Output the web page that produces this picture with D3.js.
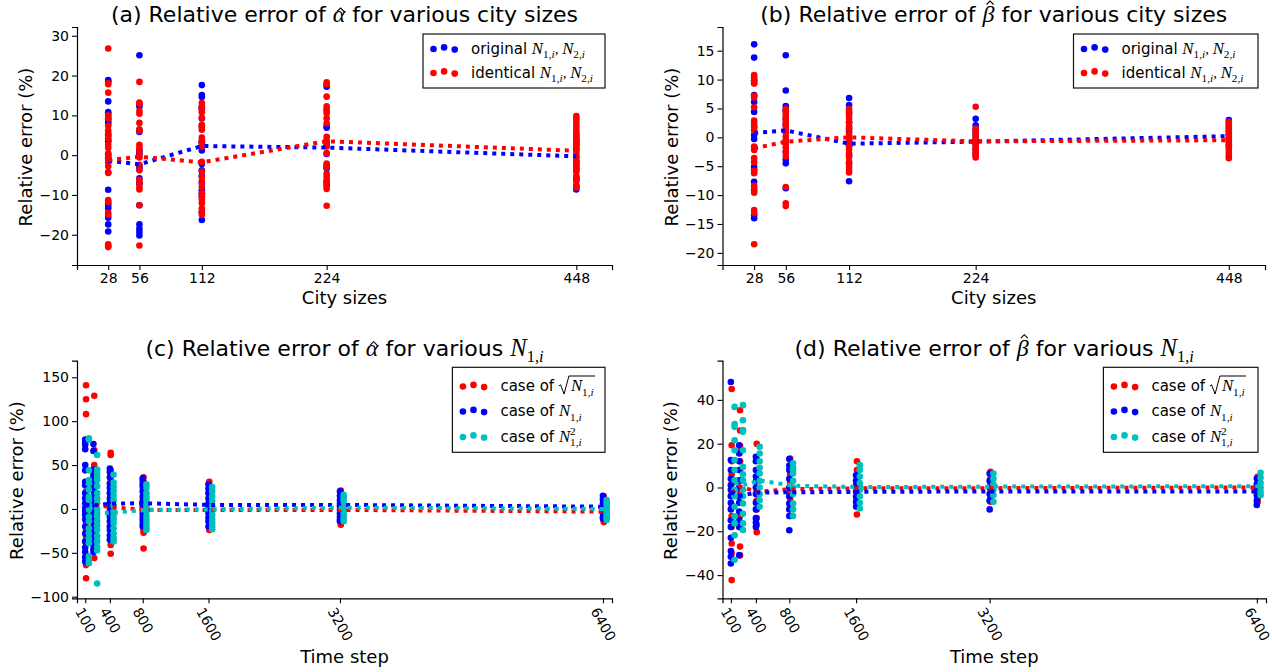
<!DOCTYPE html>
<html>
<head>
<meta charset="utf-8">
<script src="https://cdn.jsdelivr.net/npm/d3@7"></script>
<style>
  body { margin: 0; background: #fff; }
  text { font-family: "DejaVu Sans", sans-serif; fill: #000; }
</style>
</head>
<body>
<svg id="chart" width="1272" height="672"></svg>
<script>
// ---- data ----
var citySizes = [28, 56, 112, 224, 448]
var timeSteps = [100, 200, 400, 800, 1600, 3200, 6400]
var timeTicks = [100, 400, 800, 1600, 3200, 6400]

// (a) alpha error, per city size
var alphaOriginal = [
  [18.9, 18.6, 13.5, 10.8, 10.4, 9, 8.4, 7.8, 5, 3.8, 3.4, 0.2, -0.5, -4.3, -8.7, -12.1, -12.8, -13.4, -15.7, -17.4, -19.2],
  [25.1, 12.8, 12.2, 6.2, 5.8, 1.2, 0.5, -2.8, -3.5, -5.8, -6.9, -7.2, -12.6, -17.4, -18.5, -19.3, -20.2],
  [17.6, 15.1, 14.6, 12, 11.7, 9.2, 7.3, 3.5, 3.1, 1.2, -2.2, -3.8, -5.2, -7, -8.8, -9.6, -10.3, -14.2, -16.3],
  [17.6, 17.2, 7.3, 6.9, 3.1, 2.3, 0.3, -2.6, -3.3, -6.7, -7.3],
  [5.2, 4.1, 3.3, 2.5, 1.5, -0.4, -1.6, -2.4, -3.4, -5.5, -6.3, -7.8, -8.6]
]
var alphaIdentical = [
  [26.8, 18.1, 17.8, 15.7, 10, 9.5, 9.2, 7.4, 6.2, 5.5, 4.8, 4.2, 2.6, 1.8, 0.4, -0.4, -1.2, -1.8, -2.8, -4.5, -11.3, -11.8, -14.5, -15, -22.4, -22.9, -23.1],
  [18.4, 13.2, 12.9, 11.1, 10.4, 8.1, 6.5, 6.1, 2.6, 1.8, 1.2, -0.2, -0.6, -2.4, -3.8, -6.2, -7.1, -8.0, -8.6, -12.6, -22.7],
  [13.1, 12.2, 11.2, 10.8, 9.4, 7.6, 7.1, 6.4, 4.4, 3.5, 2.9, 2.1, -1.7, -4.1, -5.5, -6.6, -8, -9.6, -10.5, -11.2, -12.1, -13.4, -14.4, -15],
  [18.3, 17.8, 14.7, 12.3, 11.6, 11.2, 10.5, 9.3, 8, 4.6, 3.8, 3.1, 2.2, 0.5, -2.1, -3, -4.6, -5.3, -6.1, -6.7, -7.9, -8.5, -12.7],
  [9.8, 9.2, 8.5, 7.8, 7, 6.3, 5.6, 4.8, 4.1, 3.5, 2.8, 2, 1.2, 0.4, -0.5, -1.3, -2.1, -2.9, -3.6, -4.2, -5.3, -5.8, -6.4, -7.5, -8.1]
]
var alphaOriginalMean = [-1.4, -2.3, 2.3, 1.9, -0.3]
var alphaIdenticalMean = [-1.3, -0.4, -1.8, 3.5, 1.1]

// (b) beta error, per city size
var betaOriginal = [
  [16.1, 13.8, 9.9, 9.4, 7.3, 6.1, 4.4, 1.8, 0.4, -0.3, -5.1, -5.6, -7.7, -9.2, -13.5, -14],
  [14.2, 8.1, 5.4, 4.7, 3.2, 2.2, 1.1, -0.6, -2.5, -3.9, -4.5, -8.8],
  [6.8, 5.6, 4.2, 2.6, 1.6, 1, -0.6, -1.6, -3.1, -4.6, -7.6],
  [3.2, 2.1, 1.3, 0.7, 0.1, -0.5, -1.3, -2.1, -2.9],
  [3.0, 2.4, 1.8, 1.2, 0.5, -0.2, -0.8, -1.5]
]
var betaIdentical = [
  [10.8, 10.4, 9.9, 9.3, 7.2, 6.9, 5.2, 2.9, 2.4, 1.8, 1.2, -1.6, -2.2, -3.6, -4.3, -5.8, -6.2, -8.4, -8.9, -9.6, -12.6, -13.1, -18.5],
  [4.9, 4.5, 4.1, 3.6, 3.1, 2.6, 2, 1.4, 0.8, 0.1, -0.5, -1.2, -1.8, -2.6, -3.3, -8.6, -11.4, -11.9],
  [4.9, 4.4, 3.8, 3.2, 2.6, 2, 1.5, 0.6, 0.1, -0.6, -1.4, -2.1, -2.8, -3.5, -4.3, -5.1, -5.6, -6.1],
  [5.3, 1.5, 1.0, 0.4, -0.2, -0.7, -1.2, -1.7, -2.2, -2.6, -3.1, -3.5],
  [2.7, 2.2, 1.6, 1.0, 0.5, -0.1, -0.6, -1.2, -1.7, -2.2, -2.7, -3.2, -3.6]
]
var betaOriginalMean = [0.75, 1.2, -1.1, -0.75, 0.2]
var betaIdenticalMean = [-1.9, -0.75, 0, -0.7, -0.5]

// (c) alpha error, per time step
var alphaSqrt = [
  [141, 125, 108, 29, 20, 12, 6, 1, -5, -11, -16, -20, -24, -28, -31, -39, -54, -58, -64, -79],
  [129, 67, 50, 44, 40, 31, 25, 17, 10, 4, -1, -5, -12, -18, -25, -31, -38, -45, -56],
  [64, 61.5, 44, 38, 33, 26, 20, 14, 8, 2.7, -3, -9, -15, -20, -24, -30, -35, -41, -51],
  [36, 31, 25, 20, 15, 11, 6, 1, -4, -9, -14, -19, -24, -27, -45],
  [31, 27, 21, 14, 8, 2, -4, -10, -15, -20, -24],
  [21, 17, 12, 7, 2, -3, -8, -12, -15, -18],
  [14, 10, 6, 2, -2, -6, -10, -13, -15]
]
var alphaLin = [
  [79, 76, 73, 68, 50, 44, 31, 27, 18, 12, 6.5, 1, -3, -7, -12, -20, -28, -37, -44, -49, -55, -60],
  [74, 66, 45, 38, 33, 25, 21, 14, 7, 2, -1, -5, -9, -15, -20, -24, -31, -37, -41, -46, -49],
  [46, 42, 36, 29, 24, 18, 12, 7, 3, -2, -6, -9, -14, -20, -24, -30, -35],
  [35, 32, 28, 25, 20, 14, 9, 3, -1, -5, -9, -12.5, -17, -20],
  [28, 23, 18, 12, 6.5, 1, -5, -10, -14, -20],
  [20, 15, 10, 6, 3, -1, -5, -9, -12, -14],
  [15, 11, 6.5, 3, -1, -5, -9, -11]
]
var alphaSq = [
  [80.5, 79, 44, 33, 29, 22, 14, 10, 4, -1, -9, -14, -22, -28, -34, -39, -54, -58, -62],
  [61.5, 45, 41, 37, 33, 26, 18, 12, 6.5, 0, -5, -9, -14, -19, -24, -31, -37, -43, -47, -85],
  [39, 30, 25, 20, 15, 10, 4, -3, -8, -12, -16, -22, -28, -33, -37],
  [28, 24, 18, 14, 10, 5, 1, -3, -8, -12.5, -17, -21, -24],
  [25, 20, 14, 9, 3, -2, -7, -12, -16, -20, -23],
  [16, 13, 10, 6, 1, -3, -7, -11, -14],
  [10, 7, 4.5, 1, -2, -5, -8, -10, -12.5]
]
var alphaSqrtMean = [3, 5, 2, -1, -1.3, -1.1, -3]
var alphaLinMean = [5, 4, 6, 6.5, 4.6, 4.6, 2.6]
var alphaSqMean = [2, -5, -4.2, -1.1, -0.5, 1.5, 0]

// (d) beta error, per time step
var betaSqrt = [
  [45, 19.3, 12, 6, 1.8, -3, -4, -8, -13, -18, -25.6, -30, -42.3],
  [35.3, 26, 19, 16.3, 12, 8, 3, -2, -7, -13, -18, -27, -31],
  [20, 13, 8, 3, -2, -6, -10, -14, -17, -20.4],
  [13.2, 10, 6, 2, -2, -5, -9, -13],
  [12, 8, 4, 0, -4, -8, -12.3],
  [7.2, 4, 1, -2, -4.5, -6.5],
  [4.9, 2.5, 0, -2.5, -5, -6.5]
]
var betaLin = [
  [48.2, 12.5, 8, 4, 1, -1, -4, -7, -10, -15, -18, -23, -29, -31.6, -34.7],
  [19.3, 15.5, 12, 8, 3.3, 0, -4.3, -7, -11, -15, -18, -30.9],
  [14, 12, 8, 5, 2.7, 0, -3, -7, -10, -14, -16, -18],
  [13, 10, 8, 4, 0, -4, -7.3, -10, -13, -19.5],
  [5.6, 3, 1, -2, -4.3, -6.5, -8.8],
  [6.4, 3, 0, -3, -6, -10],
  [4.1, 1.5, -1, -3.5, -6, -8]
]
var betaSq = [
  [36.8, 29, 27.7, 21.6, 17, 12.5, 8, 3.3, -1, -4, -8.8, -13.2, -16.4, -21.8, -33],
  [37.6, 30.7, 26.2, 25.4, 17, 9.4, 6, 3.3, -1, -4, -7.3, -12, -16.4, -19.4],
  [18.6, 15.5, 12, 9, 6.4, 3, 0, -3, -5.8, -8.8],
  [11, 9, 8, 6.4, 3, 0, -3, -7.3, -10, -13],
  [10.2, 8, 5, 2, -1, -4, -7, -9.6],
  [6.4, 4, 1.5, -1, -3.5, -6.5],
  [6.7, 4.5, 2, 0, -2, -3.5]
]
var betaSqrtMean = [-2.5, 0.5, -2, -0.8, -0.4, -0.3, 0]
var betaLinMean = [-2, -4, -2.3, -2.2, -2, -1.8, -1.8]
var betaSqMean = [2, 1, 3.2, 0.8, 0.2, 0.4, 0.6]

// small horizontal shift (in time steps) between the three N_{1,i} cases
var caseShift = [10, 0, 45]

// ---- drawing ----
var RED = '#ff0000', BLUE = '#0000ff', CYAN = '#00bfbf'
var MATH = '"Liberation Serif", "DejaVu Serif", serif'
var svg = d3.select('#chart')

var panels = [
  {
    title: ['(a) Relative error of ', {hat: 'α'}, ' for various city sizes'],
    x0: 77, x1: 612, y0: 27, y1: 265,
    xd: [0, 480], yd: [-27.6, 32.2], yt: d3.range(-20, 31, 10), xt: citySizes, xs: citySizes,
    xlabel: 'City sizes', xlabelY: 303.5, ylabelX: 26, rotate: false,
    series: [
      {vals: alphaOriginal, mean: alphaOriginalMean, color: BLUE, shift: 0, name: 'original'},
      {vals: alphaIdentical, mean: alphaIdenticalMean, color: RED, shift: 0, name: 'identical'}
    ],
    legend: {x: 423, y: 34, w: 182, h: 54, rows: [48, 72], kind: 'city'}
  },
  {
    title: ['(b) Relative error of ', {hat: 'β'}, ' for various city sizes'],
    x0: 722.5, x1: 1265, y0: 27, y1: 265,
    xd: [0, 480], yd: [-22.1, 19.1], yt: d3.range(-20, 16, 5), xt: citySizes, xs: citySizes,
    xlabel: 'City sizes', xlabelY: 303.5, ylabelX: 672, rotate: false,
    series: [
      {vals: betaOriginal, mean: betaOriginalMean, color: BLUE, shift: 0, name: 'original'},
      {vals: betaIdentical, mean: betaIdenticalMean, color: RED, shift: 0, name: 'identical'}
    ],
    legend: {x: 1073.5, y: 34, w: 184.5, h: 54, rows: [48, 72], kind: 'city'}
  },
  {
    title: ['(c) Relative error of ', {hat: 'α'}, ' for various ', {N: '1,i'}],
    x0: 77, x1: 612, y0: 360.7, y1: 598.3,
    xd: [0, 6510], yd: [-101.8, 168.9], yt: d3.range(-100, 151, 50), xt: timeTicks, xs: timeSteps,
    xlabel: 'Time step', xlabelY: 663, ylabelX: 17, rotate: true,
    series: [
      {vals: alphaSqrt, mean: alphaSqrtMean, color: RED, shift: caseShift[0], name: 'sqrt'},
      {vals: alphaLin, mean: alphaLinMean, color: BLUE, shift: caseShift[1], name: 'lin'},
      {vals: alphaSq, mean: alphaSqMean, color: CYAN, shift: caseShift[2], name: 'sq'}
    ],
    legend: {x: 452.4, y: 367.3, w: 152.6, h: 85, rows: [385.5, 410.5, 436], kind: 'time'}
  },
  {
    title: ['(d) Relative error of ', {hat: 'β'}, ' for various ', {N: '1,i'}],
    x0: 722.5, x1: 1266, y0: 360.7, y1: 598.3,
    xd: [0, 6510], yd: [-50.6, 57.9], yt: d3.range(-40, 41, 20), xt: timeTicks, xs: timeSteps,
    xlabel: 'Time step', xlabelY: 663, ylabelX: 671, rotate: true,
    series: [
      {vals: betaSqrt, mean: betaSqrtMean, color: RED, shift: caseShift[0], name: 'sqrt'},
      {vals: betaLin, mean: betaLinMean, color: BLUE, shift: caseShift[1], name: 'lin'},
      {vals: betaSq, mean: betaSqMean, color: CYAN, shift: caseShift[2], name: 'sq'}
    ],
    legend: {x: 1103.4, y: 367.3, w: 154.6, h: 85, rows: [385.5, 410.5, 436], kind: 'time'}
  }
]

// writes N_{sub} (optionally with a superscript) as tspans, leaves baseline lowered by size*0.3
function addN(t, sub, size, sup) {
  t.append('tspan').text('N').attr('font-family', MATH).attr('font-style', 'italic')
    .attr('font-size', size * 1.12)
  var ss = size * 0.75
  if (sup) {
    t.append('tspan').text(sup).attr('font-family', MATH).attr('font-size', ss)
      .attr('dy', -size * 0.42)
    t.append('tspan').text(sub.split(',')[0] + ',').attr('font-family', MATH).attr('font-size', ss)
      .attr('dx', -ss * 0.5).attr('dy', size * 0.72)
  } else {
    t.append('tspan').text(sub.split(',')[0] + ',').attr('font-family', MATH).attr('font-size', ss)
      .attr('dy', size * 0.3)
  }
  t.append('tspan').text(sub.split(',')[1]).attr('font-family', MATH).attr('font-style', 'italic')
    .attr('font-size', ss)
}

function drawPanel(p) {
  var x = d3.scaleLinear().domain(p.xd).range([p.x0, p.x1])
  var y = d3.scaleLinear().domain(p.yd).range([p.y1, p.y0])
  var g = svg.append('g')

  // points
  p.series.forEach(function(s) {
    s.vals.forEach(function(col, i) {
      g.append('g').selectAll('circle').data(col).enter().append('circle')
        .attr('cx', x(p.xs[i] + s.shift))
        .attr('cy', d => y(d))
        .attr('r', 3.3)
        .attr('fill', s.color)
    })
  })
  // mean lines
  p.series.forEach(function(s) {
    g.append('path').datum(s.mean)
      .attr('d', d3.line().x((d, i) => x(p.xs[i] + s.shift)).y(d => y(d)))
      .attr('fill', 'none')
      .attr('stroke', s.color)
      .attr('stroke-width', 4)
      .attr('stroke-dasharray', '4,5')
  })

  // axes
  var ya = g.append('g').attr('transform', 'translate(' + p.x0 + ',0)')
    .call(d3.axisLeft(y).tickValues(p.yt).tickSizeOuter(0).tickSize(5).tickPadding(3))
  var xa = g.append('g').attr('transform', 'translate(0,' + p.y1 + ')')
    .call(d3.axisBottom(x).tickValues(p.xt).tickFormat(d3.format('d')).tickSizeOuter(0).tickSize(5).tickPadding(3))
  ;[ya, xa].forEach(function(a) {
    a.attr('font-family', null).attr('font-size', 14)
    a.selectAll('text').attr('fill', '#000')
    a.selectAll('line').attr('stroke', '#000').attr('stroke-width', 1.1)
    a.select('.domain').attr('stroke', '#000').attr('stroke-width', 1.2)
  })
  if (p.rotate) {
    xa.selectAll('.tick text').each(function() {
      var L = this.getComputedTextLength()
      var a = Math.PI / 3
      var ty = 8 + (L * Math.sin(a) + 10 * Math.cos(a)) / 2
      d3.select(this).attr('x', 0).attr('y', 0).attr('dy', '0.36em')
        .attr('text-anchor', 'middle')
        .attr('transform', 'translate(0,' + ty + ') rotate(60)')
    })
  }

  // labels
  var cx = (p.x0 + p.x1) / 2
  svg.append('text').attr('x', cx).attr('y', p.xlabelY)
    .attr('text-anchor', 'middle').attr('font-size', 18).text(p.xlabel)
  svg.append('text')
    .attr('transform', 'translate(' + p.ylabelX + ',' + ((p.y0 + p.y1) / 2 + 1) + ') rotate(-90)')
    .attr('text-anchor', 'middle').attr('dy', '0.35em').attr('font-size', 18).text('Relative error (%)')

  // title
  var tt = svg.append('text').attr('x', cx).attr('y', p.y0 - 5).attr('text-anchor', 'middle')
    .attr('font-size', 22)
  var hatIdx = -1, count = 0
  p.title.forEach(function(part) {
    if (typeof part === 'string') {
      tt.append('tspan').text(part)
      count += part.length
    } else if (part.hat) {
      hatIdx = count
      tt.append('tspan').text(part.hat).attr('font-family', MATH).attr('font-style', 'italic')
        .attr('font-size', 24)
      count += 1
    } else if (part.N) {
      addN(tt, part.N, 22)
    }
  })
  var ex = tt.node().getExtentOfChar(hatIdx)
  var hx = ex.x + ex.width / 2 + 1.5
  var hy = p.y0 - 5 - (p.title[1].hat === 'β' ? 21 : 14)
  svg.append('path')
    .attr('d', 'M' + (hx - 3.5) + ',' + (hy + 3.5) + 'L' + hx + ',' + hy + 'L' + (hx + 3.5) + ',' + (hy + 3.5))
    .attr('fill', 'none').attr('stroke', '#000').attr('stroke-width', 1.1)

  // legend
  var lg = p.legend
  svg.append('rect').attr('x', lg.x).attr('y', lg.y).attr('width', lg.w).attr('height', lg.h)
    .attr('fill', '#fff').attr('stroke', '#111').attr('stroke-width', 1.2)
  var offs = [1, -0.6, 1.6]
  p.series.forEach(function(s, k) {
    var ry = lg.rows[k]
    svg.append('g').selectAll('circle').data(offs).enter().append('circle')
      .attr('cx', (d, j) => lg.x + 10.5 + j * 10.6)
      .attr('cy', d => ry + d)
      .attr('r', 3.3).attr('fill', s.color)
    var t = svg.append('text').attr('x', lg.x + 48).attr('y', ry + 5.5).attr('font-size', 15)
    if (lg.kind === 'city') {
      t.append('tspan').text(s.name + ' ')
      addN(t, '1,i', 15)
      t.append('tspan').text(', ').attr('font-family', MATH).attr('font-style', 'italic')
        .attr('dy', -15 * 0.3)
      addN(t, '2,i', 15)
    } else if (s.name === 'sqrt') {
      t.append('tspan').text('case of ')
      var n0 = 8
      t.append('tspan').text('N').attr('font-family', MATH).attr('font-style', 'italic')
        .attr('font-size', 16.8).attr('dx', 12)
      t.append('tspan').text('1,').attr('font-family', MATH).attr('font-size', 11.2).attr('dy', 4.5)
      t.append('tspan').text('i').attr('font-family', MATH).attr('font-style', 'italic').attr('font-size', 11.2)
      var node = t.node()
      var eN = node.getExtentOfChar(n0)
      var eL = node.getExtentOfChar(n0 + 3)
      var xs0 = eN.x, xe = eL.x + eL.width + 1.5, b = ry + 5.5
      svg.append('path')
        .attr('d', 'M' + (xs0 - 12) + ',' + (b - 5) + 'L' + (xs0 - 10.3) + ',' + (b - 6.2) +
          'L' + (xs0 - 6.8) + ',' + (b + 3) + 'L' + (xs0 - 2) + ',' + (b - 15) + 'L' + xe + ',' + (b - 15))
        .attr('fill', 'none').attr('stroke', '#000').attr('stroke-width', 1)
    } else if (s.name === 'lin') {
      t.append('tspan').text('case of ')
      addN(t, '1,i', 15)
    } else {
      t.append('tspan').text('case of ')
      addN(t, '1,i', 15, '2')
    }
  })
}

panels.forEach(drawPanel)
</script>
</body>
</html>
